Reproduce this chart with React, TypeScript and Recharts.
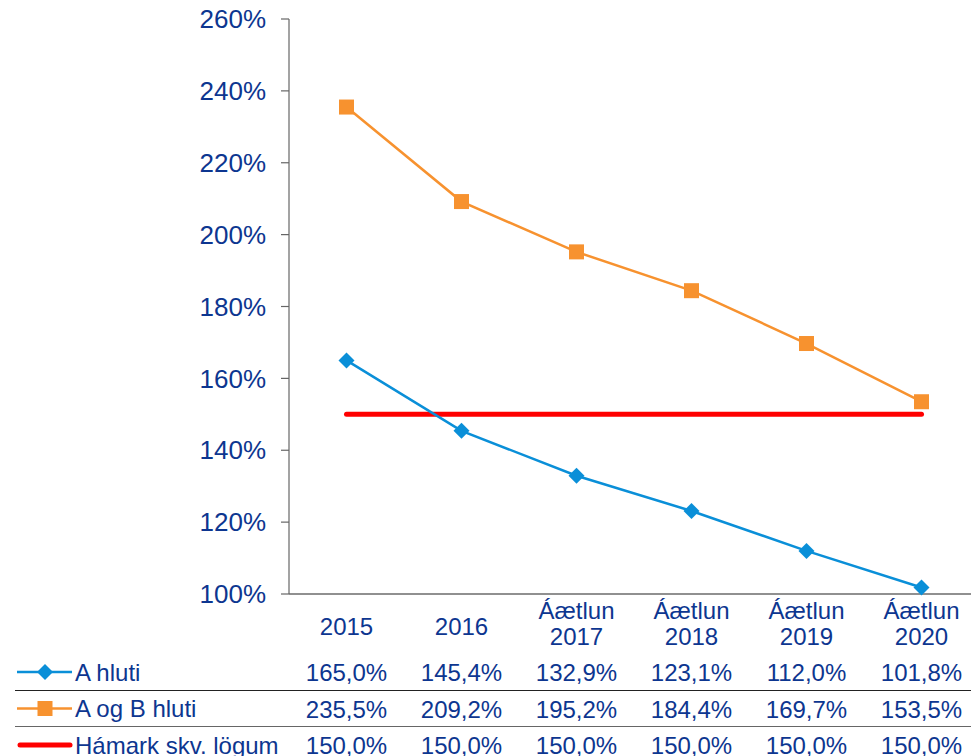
import { LineChart, Line, XAxis, YAxis } from "recharts";

const categories = ["2015", "2016", "Áætlun 2017", "Áætlun 2018", "Áætlun 2019", "Áætlun 2020"];
const aHluti = [165.0, 145.4, 132.9, 123.1, 112.0, 101.8];
const aogbHluti = [235.5, 209.2, 195.2, 184.4, 169.7, 153.5];
const hamark = [150.0, 150.0, 150.0, 150.0, 150.0, 150.0];
const yTicks = [100, 120, 140, 160, 180, 200, 220, 240, 260];

const rows = [
  { name: "A hluti", values: aHluti, color: "#0A8FD8", shape: "diamond" },
  { name: "A og B hluti", values: aogbHluti, color: "#F7922F", shape: "square" },
  { name: "Hámark skv. lögum", values: hamark, color: "#FF0000", shape: "line" },
];

const data = categories.map((c, i) => ({
  category: c,
  a: aHluti[i],
  ab: aogbHluti[i],
  limit: hamark[i],
}));

const TEXT = "#0D3690";
const FONT = "'Liberation Sans', Arial, sans-serif";

const fmt = (v: number) => v.toFixed(1).replace(".", ",") + "%";

const Diamond = ({ cx, cy, fill }: any) => (
  <polygon
    points={`${cx},${cy - 8} ${cx + 8},${cy} ${cx},${cy + 8} ${cx - 8},${cy}`}
    fill={fill}
  />
);

const Square = ({ cx, cy, fill }: any) => (
  <rect x={cx - 7.5} y={cy - 7.5} width={15} height={15} fill={fill} />
);

// x axis tick draws the whole table column for that category
const TableTick = ({ x, y, payload, index }: any) => {
  const parts = String(payload.value).split(" ");
  const i = index ?? categories.indexOf(payload.value);
  return (
    <g fontFamily={FONT} fontSize={24} fill={TEXT} textAnchor="middle">
      {parts.length === 1 ? (
        <text x={x} y={y + 41}>{parts[0]}</text>
      ) : (
        <>
          <text x={x} y={y + 25}>{parts[0]}</text>
          <text x={x} y={y + 51}>{parts[1]}</text>
        </>
      )}
      {rows.map((r, k) => (
        <text key={r.name} x={x} y={y + 87 + k * 36.5}>
          {fmt(r.values[i])}
        </text>
      ))}
    </g>
  );
};

const TableLegend = () => (
  <svg
    width={971}
    height={756}
    style={{ position: "absolute", left: 0, top: 0, pointerEvents: "none" }}
  >
    <line x1={15} x2={971} y1={690.5} y2={690.5} stroke="#222" strokeWidth={1.2} />
    <line x1={15} x2={971} y1={726.5} y2={726.5} stroke="#666" strokeWidth={1.2} />
    {rows.map((r, k) => {
      const cy = 672 + k * 36.5;
      return (
        <g key={r.name}>
          {r.shape === "line" ? (
            <line x1={20} x2={70} y1={cy} y2={cy} stroke={r.color} strokeWidth={5} strokeLinecap="round" />
          ) : (
            <>
              <line x1={17} x2={72} y1={cy} y2={cy} stroke={r.color} strokeWidth={2.5} />
              {r.shape === "diamond" ? (
                <Diamond cx={45} cy={cy} fill={r.color} />
              ) : (
                <Square cx={45} cy={cy} fill={r.color} />
              )}
            </>
          )}
          <text x={75} y={cy + 8.5} fontFamily={FONT} fontSize={24} fill={TEXT}>
            {r.name}
          </text>
        </g>
      );
    })}
  </svg>
);

export default function App() {
  return (
    <div
      style={{
        position: "absolute",
        left: 0,
        top: 0,
        width: 971,
        height: 756,
        overflow: "hidden",
        background: "#fff",
      }}
    >
      <LineChart
        width={980}
        height={756}
        data={data}
        margin={{ top: 19, right: 1, bottom: 0, left: 0 }}
      >
        <XAxis
          dataKey="category"
          type="category"
          height={162}
          padding={{ left: 57.5, right: 57.5 }}
          axisLine={{ stroke: "#222", strokeWidth: 1.2 }}
          tickLine={false}
          tickSize={0}
          tickMargin={0}
          interval={0}
          tick={<TableTick />}
        />
        <YAxis
          type="number"
          domain={[100, 260]}
          ticks={yTicks}
          width={289}
          tickSize={8}
          tickMargin={15}
          tickFormatter={(v: number) => `${v}%`}
          axisLine={{ stroke: "#666", strokeWidth: 1.2 }}
          tickLine={{ stroke: "#666", strokeWidth: 1.2 }}
          tick={{ fill: TEXT, fontSize: 26, fontFamily: FONT }}
        />
        <Line
          dataKey="limit"
          stroke="#FF0000"
          strokeWidth={5}
          strokeLinecap="round"
          dot={false}
          activeDot={false}
          isAnimationActive={false}
        />
        <Line
          dataKey="a"
          stroke="#0A8FD8"
          strokeWidth={2.5}
          dot={(p: any) => <Diamond key={`a${p.index}`} cx={p.cx} cy={p.cy} fill="#0A8FD8" />}
          activeDot={false}
          isAnimationActive={false}
        />
        <Line
          dataKey="ab"
          stroke="#F7922F"
          strokeWidth={2.5}
          dot={(p: any) => <Square key={`ab${p.index}`} cx={p.cx} cy={p.cy} fill="#F7922F" />}
          activeDot={false}
          isAnimationActive={false}
        />
      </LineChart>
      <TableLegend />
    </div>
  );
}
